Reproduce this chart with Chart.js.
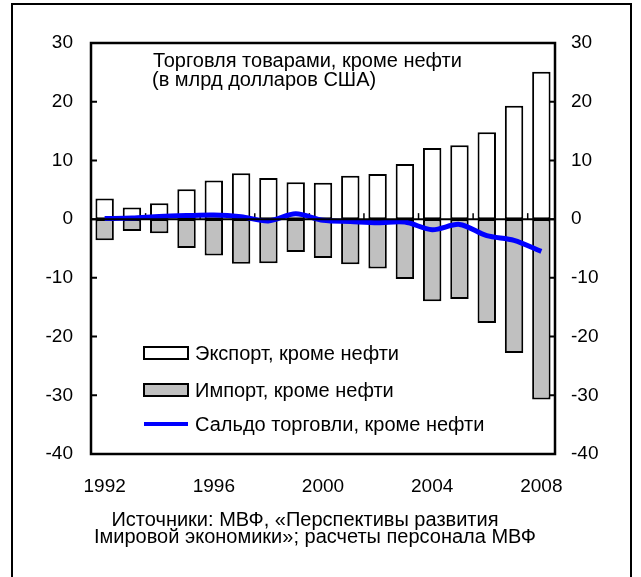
<!DOCTYPE html>
<html lang="ru">
<head>
<meta charset="utf-8">
<title>Торговля товарами, кроме нефти</title>
<script src="https://cdn.jsdelivr.net/npm/chart.js@4.4.1/dist/chart.umd.min.js"></script>
<style>
  html, body { margin: 0; padding: 0; background: #ffffff; }
  #wrap { position: relative; width: 641px; height: 577px; }
  canvas { display: block; }
</style>
</head>
<body>
<div id="wrap"><canvas id="chart" width="641" height="577"></canvas></div>
<script>
// Non-oil merchandise trade, billions of US dollars
const years = ['1992','1993','1994','1995','1996','1997','1998','1999','2000',
               '2001','2002','2003','2004','2005','2006','2007','2008'];
const exportsNonOil = [3.5, 2.0, 2.7, 5.1, 6.6, 7.8, 7.0, 6.3, 6.2,
                       7.4, 7.7, 9.4, 12.1, 12.6, 14.8, 19.3, 25.1];
const importsNonOil = [-3.6, -2.0, -2.4, -4.9, -6.2, -7.6, -7.5, -5.6, -6.6,
                       -7.7, -8.4, -10.2, -14.0, -13.6, -17.7, -22.8, -30.7];
const balanceNonOil = [0.1, 0.2, 0.45, 0.6, 0.7, 0.4, -0.3, 0.9, -0.2,
                       -0.4, -0.6, -0.5, -1.8, -0.9, -2.8, -3.6, -5.5];
const shownYears = ['1992','1996','2000','2004','2008'];
const yTicks = [30, 20, 10, 0, -10, -20, -30, -40];

const titleLines = ['Торговля товарами, кроме нефти', '(в млрд долларов США)'];
const sourceLines = ['Источники: МВФ, «Перспективы развития',
                     'Імировой экономики»; расчеты персонала МВФ'];

const FONT = '"Liberation Sans", Arial, Helvetica, sans-serif';

// Frame, plot box, inner ticks, heading, legend and source note
const decorations = {
  id: 'decorations',
  beforeDatasetsDraw(chart) {
    const { ctx, scales } = chart;
    const x = scales.x, y = scales.y;
    const zero = y.getPixelForValue(0);
    ctx.save();
    // small marks on the zero line at every second category boundary
    ctx.strokeStyle = '#000';
    ctx.lineWidth = 1.5;
    for (let k = 2; k < years.length; k += 2) {
      const px = (x.getPixelForValue(k - 1) + x.getPixelForValue(k)) / 2;
      ctx.beginPath();
      ctx.moveTo(px, zero);
      ctx.lineTo(px, zero - 6);
      ctx.stroke();
    }
    ctx.restore();
  },
  afterDatasetsDraw(chart) {
    const { ctx, chartArea: a, scales } = chart;
    const y = scales.y;
    ctx.save();
    // zero line over the bar bases
    const zero = y.getPixelForValue(0);
    ctx.strokeStyle = '#000';
    ctx.lineWidth = 2;
    ctx.beginPath();
    ctx.moveTo(a.left, zero);
    ctx.lineTo(a.right, zero);
    ctx.stroke();
    ctx.restore();
  },
  afterDraw(chart) {
    const { ctx, chartArea: a, scales } = chart;
    const y = scales.y;
    ctx.save();
    // outer frame
    ctx.strokeStyle = '#000';
    ctx.lineWidth = 2;
    ctx.strokeRect(12, 4, 619, 600);
    // plot box
    ctx.lineWidth = 2.5;
    ctx.strokeRect(a.left, a.top, a.right - a.left, a.bottom - a.top);
    // inward ticks on both value axes
    ctx.lineWidth = 2;
    yTicks.forEach(v => {
      const py = y.getPixelForValue(v);
      ctx.beginPath();
      ctx.moveTo(a.left, py); ctx.lineTo(a.left + 6, py);
      ctx.moveTo(a.right, py); ctx.lineTo(a.right - 6, py);
      ctx.stroke();
    });

    // heading inside the plot
    ctx.fillStyle = '#000';
    ctx.font = '20px ' + FONT;
    ctx.textAlign = 'left';
    ctx.textBaseline = 'alphabetic';
    ctx.fillText(titleLines[0], 153, 67);
    ctx.fillText(titleLines[1], 152, 86);

    // legend
    const ds = chart.data.datasets;
    const lx = 144, bw = 44, bh = 12;
    const rows = [353, 390, 424];
    ctx.font = '20px ' + FONT;
    ctx.textBaseline = 'middle';
    ds.forEach((d, i) => {
      const cy = rows[i];
      if (d.type === 'line') {
        ctx.strokeStyle = d.borderColor;
        ctx.lineWidth = 4;
        ctx.beginPath();
        ctx.moveTo(lx, cy); ctx.lineTo(lx + bw, cy);
        ctx.stroke();
      } else {
        ctx.fillStyle = d.backgroundColor;
        ctx.fillRect(lx, cy - bh / 2, bw, bh);
        ctx.strokeStyle = '#000';
        ctx.lineWidth = 2;
        ctx.strokeRect(lx, cy - bh / 2, bw, bh);
      }
      ctx.fillStyle = '#000';
      ctx.fillText(d.label, 195, cy + 1);
    });

    // source note
    ctx.font = '20px ' + FONT;
    ctx.textAlign = 'center';
    ctx.textBaseline = 'middle';
    ctx.fillText(sourceLines[0], 305, 520);
    ctx.fillText(sourceLines[1], 315, 537);
    ctx.restore();
  }
};

new Chart(document.getElementById('chart'), {
  data: {
    labels: years,
    datasets: [
      {
        type: 'bar',
        label: 'Экспорт, кроме нефти',
        data: exportsNonOil,
        backgroundColor: '#ffffff',
        borderColor: '#000000',
        borderWidth: 2,
        borderSkipped: false,
        grouped: false,
        barPercentage: 0.675,
        categoryPercentage: 1,
        order: 3
      },
      {
        type: 'bar',
        label: 'Импорт, кроме нефти',
        data: importsNonOil,
        backgroundColor: '#c0c0c0',
        borderColor: '#000000',
        borderWidth: 2,
        borderSkipped: false,
        grouped: false,
        barPercentage: 0.675,
        categoryPercentage: 1,
        order: 2
      },
      {
        type: 'line',
        label: 'Сальдо торговли, кроме нефти',
        data: balanceNonOil,
        borderColor: '#0000ff',
        borderWidth: 5,
        pointRadius: 0,
        tension: 0.3,
        fill: false,
        order: 1
      }
    ]
  },
  options: {
    responsive: false,
    animation: false,
    layout: { padding: { top: 43, left: 0, right: 0, bottom: 0 } },
    plugins: {
      legend: { display: false },
      tooltip: { enabled: false },
      title: { display: false }
    },
    scales: {
      x: {
        type: 'category',
        offset: true,
        grid: { display: false, drawTicks: false },
        border: { display: false },
        ticks: {
          autoSkip: false,
          maxRotation: 0,
          padding: 21,
          color: '#000',
          font: { family: FONT, size: 19 },
          callback(v, i) {
            const lab = years[i];
            return shownYears.includes(lab) ? lab : '';
          }
        },
        afterFit(s) { s.height = 123; }
      },
      y: {
        position: 'left',
        min: -40, max: 30,
        grid: { display: false, drawTicks: false },
        border: { display: false },
        ticks: {
          stepSize: 10,
          padding: 18,
          color: '#000',
          font: { family: FONT, size: 19 }
        },
        afterFit(s) { s.width = 91; }
      },
      y2: {
        position: 'right',
        min: -40, max: 30,
        grid: { display: false, drawTicks: false },
        border: { display: false },
        ticks: {
          stepSize: 10,
          padding: 16,
          color: '#000',
          font: { family: FONT, size: 19 }
        },
        afterFit(s) { s.width = 86; }
      }
    }
  },
  plugins: [decorations]
});
</script>
</body>
</html>
